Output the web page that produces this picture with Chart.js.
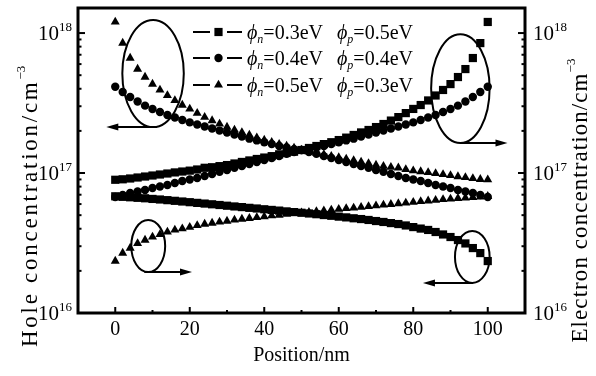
<!DOCTYPE html>
<html><head><meta charset="utf-8">
<script src="https://cdn.jsdelivr.net/npm/chart.js@4.4.1/dist/chart.umd.min.js"></script>
<style>html,body{margin:0;padding:0;background:#fff;}#wrap{position:relative;width:596px;height:376px;}</style>
</head><body><div id="wrap"><canvas id="c" width="596" height="376"></canvas></div>
<script>
// ---------------- data ----------------
const positions = [0,2,4,6,8,10,12,14,16,18,20,22,24,26,28,30,32,34,36,38,40,42,44,46,48,50,52,54,56,58,60,62,64,66,68,70,72,74,76,78,80,82,84,86,88,90,92,94,96,98,100];

// phi_n=0.3eV, phi_p=0.5eV (squares)
const squareElectron = [8.95e16,9.02e16,9.14e16,9.29e16,9.44e16,9.60e16,9.76e16,9.92e16,1.01e17,1.025e17,1.04e17,1.06e17,1.09e17,1.10e17,1.12e17,1.14e17,1.17e17,1.20e17,1.23e17,1.26e17,1.29e17,1.32e17,1.36e17,1.39e17,1.42e17,1.46e17,1.51e17,1.56e17,1.61e17,1.66e17,1.72e17,1.79e17,1.87e17,1.95e17,2.03e17,2.13e17,2.24e17,2.37e17,2.51e17,2.68e17,2.87e17,3.06e17,3.30e17,3.58e17,3.92e17,4.32e17,4.85e17,5.53e17,6.63e17,8.48e17,1.20e18];
const squareHole = [6.82e16,6.76e16,6.71e16,6.65e16,6.60e16,6.53e16,6.47e16,6.40e16,6.33e16,6.26e16,6.19e16,6.12e16,6.05e16,5.98e16,5.91e16,5.84e16,5.77e16,5.71e16,5.64e16,5.58e16,5.51e16,5.45e16,5.39e16,5.32e16,5.26e16,5.20e16,5.14e16,5.08e16,5.01e16,4.95e16,4.88e16,4.82e16,4.75e16,4.69e16,4.62e16,4.54e16,4.47e16,4.39e16,4.32e16,4.22e16,4.11e16,4.01e16,3.92e16,3.79e16,3.64e16,3.49e16,3.32e16,3.14e16,2.91e16,2.68e16,2.35e16];

// phi_n=0.4eV, phi_p=0.4eV (circles)
const circleHole = [4.13e17,3.79e17,3.49e17,3.24e17,3.03e17,2.87e17,2.73e17,2.60e17,2.49e17,2.39e17,2.30e17,2.22e17,2.15e17,2.08e17,2.01e17,1.95e17,1.88e17,1.82e17,1.76e17,1.71e17,1.66e17,1.61e17,1.56e17,1.52e17,1.48e17,1.46e17,1.41e17,1.37e17,1.32e17,1.28e17,1.24e17,1.20e17,1.16e17,1.12e17,1.09e17,1.05e17,1.02e17,9.84e16,9.52e16,9.21e16,8.99e16,8.77e16,8.48e16,8.21e16,8.01e16,7.81e16,7.56e16,7.38e16,7.20e16,6.96e16,6.74e16];
const circleElectron = [6.74e16,6.96e16,7.20e16,7.38e16,7.56e16,7.81e16,8.01e16,8.21e16,8.48e16,8.77e16,8.99e16,9.21e16,9.52e16,9.84e16,1.02e17,1.05e17,1.09e17,1.12e17,1.16e17,1.20e17,1.24e17,1.28e17,1.32e17,1.37e17,1.41e17,1.46e17,1.48e17,1.52e17,1.56e17,1.61e17,1.66e17,1.71e17,1.76e17,1.82e17,1.88e17,1.95e17,2.01e17,2.08e17,2.15e17,2.22e17,2.30e17,2.39e17,2.49e17,2.60e17,2.73e17,2.87e17,3.03e17,3.24e17,3.49e17,3.79e17,4.13e17];

// phi_n=0.5eV, phi_p=0.3eV (triangles)
const triangleHole = [1.20e18,8.48e17,6.63e17,5.53e17,4.85e17,4.32e17,3.92e17,3.58e17,3.30e17,3.06e17,2.87e17,2.68e17,2.51e17,2.37e17,2.24e17,2.13e17,2.03e17,1.95e17,1.87e17,1.79e17,1.72e17,1.66e17,1.61e17,1.56e17,1.51e17,1.46e17,1.42e17,1.39e17,1.36e17,1.32e17,1.29e17,1.26e17,1.23e17,1.20e17,1.17e17,1.14e17,1.12e17,1.10e17,1.09e17,1.06e17,1.04e17,1.025e17,1.01e17,9.92e16,9.76e16,9.60e16,9.44e16,9.29e16,9.14e16,9.02e16,8.95e16];
const triangleElectron = [2.35e16,2.68e16,2.91e16,3.14e16,3.32e16,3.49e16,3.64e16,3.79e16,3.92e16,4.01e16,4.11e16,4.22e16,4.32e16,4.39e16,4.47e16,4.54e16,4.62e16,4.69e16,4.75e16,4.82e16,4.88e16,4.95e16,5.01e16,5.08e16,5.14e16,5.20e16,5.26e16,5.32e16,5.39e16,5.45e16,5.51e16,5.58e16,5.64e16,5.71e16,5.77e16,5.84e16,5.91e16,5.98e16,6.05e16,6.12e16,6.19e16,6.26e16,6.33e16,6.40e16,6.47e16,6.53e16,6.60e16,6.65e16,6.71e16,6.76e16,6.82e16];

const xTicks = [0,20,40,60,80,100];
const xMinorTicks = [10,30,50,70,90];
const yExponents = [16,17,18];
const legendNames = [["n","0.3eV","p","0.5eV"],["n","0.4eV","p","0.4eV"],["n","0.5eV","p","0.3eV"]];
const xTitle = "Position/nm";
const yLeftTitle = "Hole concentration/cm";
const yRightTitle = "Electron concentration/cm";

// annotation ellipses / arrows in data units
const ellipses = [
  {x0:1.9, x1:18.4, y0:2.13e17, y1:1.24e18},
  {x0:84.8, x1:100.5, y0:1.64e17, y1:9.8e17},
  {x0:4.3, x1:13.4, y0:1.96e16, y1:4.62e16},
  {x0:91.2, x1:100.5, y0:1.64e16, y1:3.86e16}
];
const arrows = [
  {x0:11.2, x1:-2.4, y:2.13e17},
  {x0:92.8, x1:105.3, y:1.64e17},
  {x0:7.8, x1:20.6, y:1.96e16},
  {x0:96.0, x1:82.6, y:1.64e16}
];

// ---------------- chart ----------------
const FONT = '"Liberation Serif","Times New Roman",serif';
const pts = a => positions.map((p,i)=>({x:p, y:a[i]}));
const mk = (data, style, r) => ({data: pts(data), pointStyle: style, pointRadius: r, pointHoverRadius: r,
  backgroundColor:'#000', borderColor:'#000', borderWidth:0, showLine:false});

const decor = {
  id:'decor',
  afterDatasetsDraw(chart){
    const ctx = chart.ctx, xs = chart.scales.x, ys = chart.scales.y, ca = chart.chartArea;
    ctx.save();
    ctx.strokeStyle = '#000'; ctx.fillStyle = '#000';
    // ellipses
    ctx.lineWidth = 2;
    ellipses.forEach(e=>{
      const a = xs.getPixelForValue(e.x0), b = xs.getPixelForValue(e.x1);
      const t = ys.getPixelForValue(e.y1), btm = ys.getPixelForValue(e.y0);
      ctx.beginPath();
      ctx.ellipse((a+b)/2, (t+btm)/2, (b-a)/2, (btm-t)/2, 0, 0, Math.PI*2);
      ctx.stroke();
    });
    // arrows
    arrows.forEach(ar=>{
      const xa = xs.getPixelForValue(ar.x0), xb = xs.getPixelForValue(ar.x1), y = ys.getPixelForValue(ar.y);
      const dir = Math.sign(xb-xa);
      ctx.lineWidth = 2;
      ctx.beginPath(); ctx.moveTo(xa,y); ctx.lineTo(xb - dir*8, y); ctx.stroke();
      ctx.beginPath(); ctx.moveTo(xb,y); ctx.lineTo(xb-dir*12, y-3.5); ctx.lineTo(xb-dir*12, y+3.5); ctx.closePath(); ctx.fill();
    });
    // frame
    ctx.lineWidth = 3;
    ctx.strokeRect(ca.left, ca.top, ca.right-ca.left, ca.bottom-ca.top);
    // x ticks
    ctx.lineWidth = 2;
    xTicks.forEach(v=>{const x=xs.getPixelForValue(v); ctx.beginPath(); ctx.moveTo(x,ca.bottom); ctx.lineTo(x,ca.bottom-6); ctx.stroke();});
    xMinorTicks.forEach(v=>{const x=xs.getPixelForValue(v); ctx.beginPath(); ctx.moveTo(x,ca.bottom); ctx.lineTo(x,ca.bottom-3); ctx.stroke();});
    // y ticks both sides
    yExponents.forEach(ex=>{
      const y = ys.getPixelForValue(Math.pow(10,ex));
      [[ca.left,1],[ca.right,-1]].forEach(([x0,d])=>{ctx.beginPath(); ctx.moveTo(x0,y); ctx.lineTo(x0+d*7,y); ctx.stroke();});
      if (ex < 18) for (let k=2;k<=9;k++){
        const ym = ys.getPixelForValue(k*Math.pow(10,ex));
        [[ca.left,1],[ca.right,-1]].forEach(([x0,d])=>{ctx.beginPath(); ctx.moveTo(x0,ym); ctx.lineTo(x0+d*3.5,ym); ctx.stroke();});
      }
    });
    // x tick labels
    ctx.font = '20px '+FONT; ctx.textAlign='center'; ctx.textBaseline='alphabetic';
    xTicks.forEach(v=>ctx.fillText(String(v), xs.getPixelForValue(v), ca.bottom+22));
    // x title
    ctx.fillText(xTitle, (ca.left+ca.right)/2, ca.bottom+48);
    // y tick labels with superscripts
    ctx.textAlign='left';
    yExponents.forEach(ex=>{
      const y = ys.getPixelForValue(Math.pow(10,ex));
      ctx.font = '21px '+FONT; const w1 = ctx.measureText('10').width;
      ctx.font = '13px '+FONT; const w2 = ctx.measureText(String(ex)).width;
      [ca.left-6-(w1+w2), ca.right+8].forEach(x=>{
        ctx.font='21px '+FONT; ctx.fillText('10', x, y+7);
        ctx.font='13px '+FONT; ctx.fillText(String(ex), x+w1, y-2);
      });
    });
    // rotated titles (letter-spaced to reach the reference length)
    const rot = (txt, cx, cy, target) => {
      ctx.save();
      ctx.translate(cx, cy); ctx.rotate(-Math.PI/2);
      ctx.font='23px '+FONT; const w1 = ctx.measureText(txt).width;
      ctx.font='13px '+FONT; const w2 = ctx.measureText('\u22123').width;
      let sp = (target - w1 - w2) / (txt.length + 1);
      if (sp < 0) sp = 0;
      const canSpace = ('letterSpacing' in ctx);
      ctx.textAlign='left';
      let u = -target/2;
      ctx.font='23px '+FONT;
      if (canSpace) { ctx.letterSpacing = sp.toFixed(2)+'px'; ctx.fillText(txt, u, 8); u += w1 + sp*txt.length; ctx.letterSpacing='0px'; }
      else { ctx.save(); ctx.scale(target/(w1+w2),1); ctx.fillText(txt, -(w1+w2)/2, 8); ctx.restore(); u = target/2 - w2; }
      ctx.font='13px '+FONT; ctx.fillText('\u22123', u, -4);
      ctx.restore();
    };
    rot(yLeftTitle, 29, 205, 284);
    rot(yRightTitle, 579, 200, 285);
    // legend
    const rowsY = [32,58,85];
    legendNames.forEach((nm,i)=>{
      const y = rowsY[i];
      ctx.lineWidth = 2;
      ctx.beginPath(); ctx.moveTo(193,y); ctx.lineTo(210,y); ctx.moveTo(227,y); ctx.lineTo(242,y); ctx.stroke();
      const st = chart.data.datasets[i*2];
      Chart.helpers.drawPoint(ctx, {pointStyle: st.pointStyle, radius: st.pointRadius, borderWidth:0}, 218.5, y);
      ctx.fillStyle='#000';
      let x = 247;
      const seg = (t, font, dy) => { ctx.font = font; ctx.fillText(t, x, y+7+dy); x += ctx.measureText(t).width; };
      ctx.textAlign='left';
      seg('\u03d5', 'italic 20px '+FONT, 0);
      seg(nm[0], 'italic 12px '+FONT, 4);
      seg('='+nm[1], '20px '+FONT, 0);
      x = 337;
      seg('\u03d5', 'italic 20px '+FONT, 0);
      seg(nm[2], 'italic 12px '+FONT, 4);
      seg('='+nm[3], '20px '+FONT, 0);
    });
    ctx.restore();
  }
};

new Chart(document.getElementById('c'), {
  type: 'scatter',
  data: { datasets: [
    mk(squareElectron, 'rect', 5.8), mk(squareHole, 'rect', 5.8),
    mk(circleHole, 'circle', 4.2), mk(circleElectron, 'circle', 4.2),
    mk(triangleHole, 'triangle', 5.2), mk(triangleElectron, 'triangle', 5.2)
  ]},
  options: {
    responsive:false, animation:false, devicePixelRatio:1,
    layout:{padding:{left:78,right:71,top:8,bottom:63}},
    scales:{
      x:{type:'linear', min:-10, max:110, display:false},
      y:{type:'logarithmic', min:1e16, max:1.51e18, display:false}
    },
    plugins:{legend:{display:false}, tooltip:{enabled:false}}
  },
  plugins:[decor]
});
</script></body></html>
